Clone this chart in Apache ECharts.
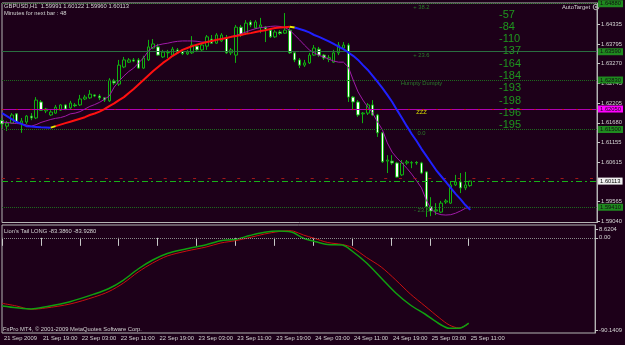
<!DOCTYPE html>
<html>
<head>
<meta charset="utf-8">
<script src="https://cdn.jsdelivr.net/npm/echarts@6.0.0/dist/echarts.min.js"></script>
<style>
html, body { margin: 0; padding: 0; background: #1d0019; }
#chart { width: 625px; height: 345px; }
</style>
</head>
<body>
<div id="chart"></div>
<script>
// GBPUSD H1, 21 Sep 11:00 .. 25 Sep 11:00 2009 (97 bars)
var opens = [1.6174,1.6159,1.6167,1.6192,1.6167,1.6170,1.6186,1.6181,1.6224,1.6200,
  1.6189,1.6194,1.6202,1.6216,1.6208,1.6216,1.6216,1.6232,1.6235,1.6243,
  1.6240,1.6235,1.6227,1.6280,1.6272,1.6318,1.6331,1.6337,1.6337,1.6315,
  1.6337,1.6369,1.6372,1.6345,1.6356,1.6350,1.6364,1.6360,1.6353,1.6356,
  1.6374,1.6364,1.6374,1.6393,1.6382,1.6388,1.6396,1.6356,1.6350,1.6425,
  1.6409,1.6439,1.6423,1.6425,1.6425,1.6417,1.6399,1.6412,1.6409,1.6417,
  1.6356,1.6337,1.6323,1.6329,1.6350,1.6366,1.6350,1.6339,1.6331,1.6356,
  1.6369,1.6377,1.6237,1.6224,1.6192,1.6194,1.6216,1.6189,1.6141,1.6065,
  1.6065,1.6060,1.6028,1.6060,1.6060,1.6061,1.6060,1.6036,1.5942,1.5931,
  1.5928,1.5955,1.5952,1.6001,1.6009,1.5993,1.59991];
var closes = [1.6165,1.6167,1.6189,1.6170,1.6173,1.6186,1.6181,1.6229,1.6202,1.6205,
  1.6197,1.6210,1.6216,1.6205,1.6221,1.6214,1.6232,1.6237,1.6245,1.6240,
  1.6235,1.6229,1.6283,1.6275,1.6323,1.6337,1.6337,1.6334,1.6315,1.6342,
  1.6372,1.6380,1.6350,1.6358,1.6357,1.6366,1.6356,1.6354,1.6358,1.6377,
  1.6364,1.6377,1.6399,1.6382,1.6404,1.6404,1.6356,1.6364,1.6425,1.6404,
  1.6436,1.6431,1.6439,1.6431,1.6420,1.6399,1.6412,1.6408,1.6417,1.6356,
  1.6337,1.6323,1.6329,1.6350,1.6369,1.6350,1.6342,1.6343,1.6356,1.6377,
  1.6377,1.6237,1.6224,1.6189,1.6194,1.6216,1.6189,1.6141,1.6063,1.6068,
  1.6060,1.6022,1.6060,1.6063,1.6061,1.6060,1.6033,1.5942,1.5931,1.5934,
  1.5952,1.5958,1.6001,1.6009,1.5993,1.6001,1.60113];
var lows = [1.6154,1.6146,1.6165,1.6167,1.6141,1.6165,1.6175,1.6178,1.6200,1.6194,
  1.6186,1.6192,1.6200,1.6202,1.6205,1.6210,1.6213,1.6229,1.6232,1.6237,
  1.6229,1.6224,1.6224,1.6270,1.6267,1.6315,1.6329,1.6331,1.6313,1.6313,
  1.6334,1.6366,1.6348,1.6342,1.6342,1.6348,1.6353,1.6350,1.6350,1.6353,
  1.6358,1.6361,1.6364,1.6380,1.6380,1.6385,1.6353,1.6350,1.6329,1.6399,
  1.6404,1.6425,1.6420,1.6409,1.6385,1.6396,1.6396,1.6404,1.6407,1.6353,
  1.6331,1.6315,1.6318,1.6326,1.6348,1.6345,1.6337,1.6331,1.6329,1.6350,
  1.6364,1.6224,1.6202,1.6184,1.6167,1.6189,1.6186,1.6130,1.6060,1.6033,
  1.6055,1.6020,1.6025,1.6055,1.6046,1.6055,1.6030,1.5915,1.5917,1.5920,
  1.5925,1.5950,1.5950,1.5998,1.5979,1.5987,1.59960];
var highs = [1.6181,1.6173,1.6194,1.6194,1.6181,1.6189,1.6194,1.6237,1.6229,1.6208,
  1.6202,1.6216,1.6218,1.6218,1.6227,1.6221,1.6243,1.6243,1.6256,1.6245,
  1.6245,1.6237,1.6288,1.6286,1.6337,1.6345,1.6342,1.6342,1.6342,1.6348,
  1.6391,1.6393,1.6380,1.6364,1.6364,1.6372,1.6369,1.6364,1.6364,1.6401,
  1.6380,1.6382,1.6404,1.6404,1.6409,1.6409,1.6404,1.6369,1.6431,1.6431,
  1.6444,1.6444,1.6444,1.6450,1.6428,1.6423,1.6417,1.6417,1.6463,1.6425,
  1.6358,1.6342,1.6337,1.6356,1.6377,1.6372,1.6353,1.6350,1.6364,1.6385,
  1.6385,1.6382,1.6240,1.6229,1.6197,1.6221,1.6229,1.6192,1.6143,1.6081,
  1.6081,1.6063,1.6068,1.6068,1.6065,1.6065,1.6063,1.6038,1.5968,1.5952,
  1.5958,1.5963,1.6009,1.6028,1.6033,1.6036,1.60122];

// slow MA (blue falling / red rising / yellow at the turn)
var slowMa = [1.6194,1.6186,1.6178,1.6170,1.6165,1.6159,1.6158,1.6157,1.6156,1.61555,
  1.6155,1.6159,1.6163,1.6167,1.6171,1.6175,1.6179,1.6183,1.6189,1.6193,
  1.6198,1.6205,1.6213,1.6220,1.6229,1.6237,1.6248,1.6259,1.6271,1.6283,
  1.6295,1.6307,1.6318,1.6329,1.6338,1.6348,1.6356,1.6364,1.6369,1.6374,
  1.6378,1.6382,1.6385,1.6388,1.6391,1.6393,1.6396,1.6399,1.6401,1.6404,
  1.6407,1.6409,1.6412,1.6415,1.6417,1.6420,1.6423,1.6424,1.6425,1.6426,
  1.6424,1.6420,1.6416,1.6411,1.6404,1.6399,1.6393,1.6387,1.6380,1.6373,
  1.6366,1.6357,1.6348,1.6337,1.6323,1.6310,1.6294,1.6278,1.6261,1.6243,
  1.6224,1.6202,1.6181,1.6159,1.6138,1.6119,1.6098,1.6079,1.6060,1.6041,
  1.6025,1.6009,1.5993,1.5977,1.5963,1.5947,1.5934];
// fast MA (purple)
var fastMa = [1.6170,1.6169,1.6167,1.6166,1.6165,1.6162,1.6159,1.6163,1.6169,1.6173,
  1.6177,1.6180,1.6182,1.6186,1.6192,1.6194,1.6198,1.6205,1.6212,1.6217,
  1.6223,1.6231,1.6240,1.6264,1.6280,1.6294,1.6306,1.6315,1.6329,1.6342,
  1.6361,1.6372,1.6377,1.6380,1.6382,1.6385,1.6387,1.6388,1.6388,1.6388,
  1.6387,1.6385,1.6385,1.6388,1.6391,1.6393,1.6396,1.6399,1.6403,1.6407,
  1.6412,1.6417,1.6421,1.6424,1.6425,1.6427,1.6428,1.6427,1.6424,1.6417,
  1.6404,1.6391,1.6377,1.6364,1.6356,1.6349,1.6345,1.6339,1.6334,1.6331,
  1.6331,1.6318,1.6283,1.6251,1.6229,1.6210,1.6194,1.6170,1.6149,1.6114,
  1.6089,1.6073,1.6060,1.6046,1.6030,1.6012,1.5993,1.5960,1.5936,1.5925,
  1.5921,1.5920,1.5921,1.5925,1.5931,1.5938,1.5942];

// Lion's Tail sub window, read at these bars
var tailBars = [0,3,6,9,14,19,22,25,28,31,34,38,42,45,48,51,54,57,59,60,62,64,67,70,72,75,78,81,84,87,90,92,94,96];
var tailGreen = [-66.67,-68.43,-69.6,-67.45,-62.47,-54.94,-49.56,-41.25,-30.49,-21.69,-15.34,-10.74,-6.73,-2.82,-1.55,2.26,5.39,6.57,6.17,4.9,-0.47,-3.11,-6.54,-7.03,-12.89,-24.63,-39.29,-53.96,-65.69,-74.49,-84.27,-88.48,-88.48,-83.386];
var tailRed = [-64.03,-66.67,-69.9,-68.63,-64.72,-57.87,-52.49,-44.18,-33.43,-24.63,-17.78,-12.89,-8.98,-5.07,-2.82,0.31,3.73,6.17,6.96,6.47,2.75,-0.18,-4.58,-6.54,-9.47,-19.25,-28.54,-41.25,-54.94,-66.67,-78.41,-85.25,-88.18,-83.928];

var timeLabels = ['21 Sep 2009','21 Sep 19:00','22 Sep 03:00','22 Sep 11:00','22 Sep 19:00','23 Sep 03:00',
  '23 Sep 11:00','23 Sep 19:00','24 Sep 03:00','24 Sep 11:00','24 Sep 19:00','25 Sep 03:00','25 Sep 11:00'];
var priceTicks = [1.64335,1.63795,1.63270,1.62745,1.62205,1.61680,1.61155,1.60615,1.59565,1.59040];

// horizontal objects
var fiboPrices = [1.6488, 1.6359, 1.6150, 1.5941];
var fiboNames = ['+ 38.2', '+ 23.6', '0.0', '- 23.6'];
var humptyPrice = 1.6283;
var zzzPrice = 1.6205;
var bidPrice = 1.60113;
var redMarkPrice = 1.6019;
var targetCounts = ['-57','-84','-110','-137','-164','-184','-193','-198','-196','-195'];

var slots = 123, tagBar = 86;
var cats = [];
for (var i = 0; i < slots; i++) cats.push(String(i));

var candles = opens.map(function (o, i) { return [o, closes[i], lows[i], highs[i]]; });

function splitBySlope(vals) {
  var n = vals.length, red = [], blue = [], yellow = [], dir = [];
  for (var i = 0; i < n; i++) { red.push('-'); blue.push('-'); yellow.push('-'); }
  for (var i = 0; i < n - 1; i++) dir.push(vals[i + 1] >= vals[i] ? 1 : -1);
  for (var i = 0; i < n - 1; i++) {
    var t = (i > 0 && dir[i] !== dir[i - 1]) ? yellow : (dir[i] > 0 ? red : blue);
    t[i] = vals[i]; t[i + 1] = vals[i + 1];
  }
  return { red: red, blue: blue, yellow: yellow };
}
var slow = splitBySlope(slowMa);

var FONT = 'Liberation Sans';
var txt = '#d4d4d4';
var dkGreen = '#2a7a2a';

function boxLabel(price, bg, fg) {
  return { show: true, position: 'end', distance: 1, formatter: price.toFixed(5),
    backgroundColor: bg, color: fg, fontSize: 5.8, fontFamily: FONT, padding: [1, 2, 0, 2] };
}

var levelLines = [];
fiboPrices.forEach(function (p, k) {
  levelLines.push({ yAxis: p, lineStyle: { color: k === 1 ? '#2a6e40' : '#1e6a1e', type: k === 1 ? 'solid' : [1, 1], width: 1 },
    label: boxLabel(p, '#1f8a1f', '#101010') });
});
levelLines.push({ yAxis: humptyPrice, lineStyle: { color: '#1e6a1e', type: [1, 1], width: 1 }, label: boxLabel(humptyPrice, '#1f8a1f', '#101010') });
levelLines.push({ yAxis: zzzPrice, lineStyle: { color: '#b000b0', type: 'solid', width: 1 }, label: boxLabel(zzzPrice, '#ff00ff', '#101010') });
levelLines.push({ yAxis: zzzPrice, lineStyle: { color: '#c02020', type: [2, 12], width: 1 }, label: { show: false } });
levelLines.push({ yAxis: redMarkPrice, lineStyle: { color: '#a01818', type: [3, 11.7], width: 1 }, label: { show: false } });
levelLines.push({ yAxis: bidPrice, lineStyle: { color: '#18b018', type: [6, 3, 2, 3], width: 1 },
  label: boxLabel(bidPrice, '#f0f0f0', '#000000') });
levelLines.push({ yAxis: bidPrice + 0.0001, lineStyle: { opacity: 0 },
  label: { show: true, position: 'insideStartTop', distance: 1, formatter: '#8927426 buy', color: '#b8b8b8', fontSize: 5.8, fontFamily: FONT } });

var tags = fiboPrices.map(function (p, k) {
  return { coord: [tagBar, p], name: fiboNames[k], label: { color: dkGreen } };
});
tags.push({ coord: [tagBar, humptyPrice], name: 'Humpty Dumpty', label: { color: dkGreen } });
tags.push({ coord: [tagBar, zzzPrice], name: 'ZZZ', label: { color: '#d8d800' } });

var graphics = [
  { type: 'text', left: 4, top: 3, style: { text: 'GBPUSD,H1  1.59991 1.60122 1.59960 1.60113', fill: txt, font: '5.8px ' + FONT } },
  { type: 'text', left: 4, top: 10, style: { text: 'Minutes for next bar : 48', fill: txt, font: '5.8px ' + FONT } },
  { type: 'text', left: 562, top: 4, style: { text: 'AutoTarget', fill: txt, font: '5.8px ' + FONT } },
  { type: 'circle', shape: { cx: 596, cy: 7, r: 2.8 }, style: { fill: 'none', stroke: '#b0b0b0', lineWidth: 1 } },
  { type: 'circle', shape: { cx: 596, cy: 7, r: 1 }, style: { fill: '#b0b0b0' } },
  { type: 'text', left: 4, top: 228, style: { text: "Lion's Tail LONG -83.3860 -83.9280", fill: txt, font: '5.8px ' + FONT } },
  { type: 'text', left: 3, top: 326, style: { text: 'FxPro MT4, \u00a9 2001-2009 MetaQuotes Software Corp.', fill: txt, font: '5.8px ' + FONT } }
];
targetCounts.forEach(function (t, k) {
  graphics.push({ type: 'text', left: 499, top: 9 + k * 12.3, style: { text: t, fill: '#1e961e', font: '11px ' + FONT } });
});

var dom = document.getElementById('chart');
var myChart = echarts.init(dom);

var option = {
  animation: false,
  backgroundColor: '#1d0019',
  grid: [
    { left: 2, top: 3, width: 599, height: 219.5, show: true, borderColor: '#b4b4b4', borderWidth: 1 },
    { left: 2, top: 225, width: 599, height: 108, show: true, borderColor: '#b4b4b4', borderWidth: 1 }
  ],
  xAxis: [
    { type: 'category', gridIndex: 0, data: cats, boundaryGap: false,
      axisLine: { show: false }, axisTick: { show: false }, axisLabel: { show: false }, splitLine: { show: false } },
    { type: 'category', gridIndex: 1, data: cats, boundaryGap: false,
      axisLine: { show: false },
      axisTick: { show: true, length: 8, lineStyle: { color: '#c8c8c8' },
        interval: function (i) { return i % 8 === 0 && i / 8 < timeLabels.length; } },
      axisLabel: { interval: function (i) { return i % 8 === 0 && i / 8 < timeLabels.length; },
        formatter: function (v, i) { return timeLabels[i / 8]; },
        align: 'left', margin: 2, padding: [0, 0, 0, 2], color: txt, fontSize: 5.8, fontFamily: FONT },
      splitLine: { show: false } }
  ],
  yAxis: [
    { type: 'value', gridIndex: 0, position: 'right', min: 1.5900, max: 1.6490,
      axisLine: { show: true, lineStyle: { color: '#b4b4b4' } },
      axisTick: { show: true, length: 3, customValues: priceTicks, lineStyle: { color: '#c8c8c8' } },
      axisLabel: { customValues: priceTicks, formatter: function (v) { return v.toFixed(5); },
        margin: 4, color: txt, fontSize: 5.8, fontFamily: FONT },
      splitLine: { show: false } },
    { type: 'value', gridIndex: 1, position: 'right', min: -93.07, max: 12.53,
      axisLine: { show: true, lineStyle: { color: '#b4b4b4' } },
      axisTick: { show: true, length: 3, customValues: [8.6204, 0, -90.1409], lineStyle: { color: '#c8c8c8' } },
      axisLabel: { customValues: [8.6204, 0, -90.1409],
        formatter: function (v) { return v === 0 ? '0.00' : v.toFixed(4); },
        margin: 4, color: txt, fontSize: 5.8, fontFamily: FONT },
      splitLine: { show: false } }
  ],
  graphic: graphics,
  series: [
    { name: 'levels', type: 'line', xAxisIndex: 0, yAxisIndex: 0, data: closes, symbol: 'none', z: 1, silent: true,
      lineStyle: { opacity: 0 },
      markLine: { symbol: ['none', 'none'], silent: true, precision: 5, data: levelLines, animation: false },
      markPoint: { symbol: 'circle', symbolSize: 0, silent: true, data: tags, animation: false,
        label: { show: true, position: 'inside', offset: [0, 3.5], formatter: '{b}', fontSize: 5.8, fontFamily: FONT } } },
    { name: 'GBPUSD', type: 'candlestick', xAxisIndex: 0, yAxisIndex: 0, data: candles, barWidth: 3, z: 3,
      itemStyle: { color: '#1d0019', color0: '#ffffff', borderColor: '#10b010', borderColor0: '#10b010',
        borderColorDoji: '#10b010', borderWidth: 1 } },
    { name: 'fast', type: 'line', xAxisIndex: 0, yAxisIndex: 0, data: fastMa, symbol: 'none', z: 4,
      lineStyle: { color: '#a01aa8', width: 1 } },
    { name: 'slowBlue', type: 'line', xAxisIndex: 0, yAxisIndex: 0, data: slow.blue, symbol: 'none', z: 5,
      lineStyle: { color: '#2020ff', width: 2 } },
    { name: 'slowRed', type: 'line', xAxisIndex: 0, yAxisIndex: 0, data: slow.red, symbol: 'none', z: 5,
      lineStyle: { color: '#ff1010', width: 2 } },
    { name: 'slowTurn', type: 'line', xAxisIndex: 0, yAxisIndex: 0, data: slow.yellow, symbol: 'none', z: 6,
      lineStyle: { color: '#e8e800', width: 2 } },
    { name: 'zero', type: 'line', xAxisIndex: 1, yAxisIndex: 1, data: tailBars.map(function (b, k) { return [b, tailGreen[k]]; }),
      symbol: 'none', lineStyle: { opacity: 0 }, z: 1, silent: true,
      markLine: { symbol: ['none', 'none'], silent: true, label: { show: false }, animation: false,
        data: [{ yAxis: 0, lineStyle: { color: '#8a8a8a', type: [1, 1], width: 1 } }] } },
    { name: 'tailRed', type: 'line', xAxisIndex: 1, yAxisIndex: 1, smooth: 0.3, symbol: 'none', z: 3,
      data: tailBars.map(function (b, k) { return [b, tailRed[k]]; }),
      lineStyle: { color: '#c81010', width: 1 } },
    { name: 'tailGreen', type: 'line', xAxisIndex: 1, yAxisIndex: 1, smooth: 0.3, symbol: 'none', z: 4,
      data: tailBars.map(function (b, k) { return [b, tailGreen[k]]; }),
      lineStyle: { color: '#10a010', width: 1.5 } }
  ]
};

myChart.setOption(option, true);
</script>
</body>
</html>
